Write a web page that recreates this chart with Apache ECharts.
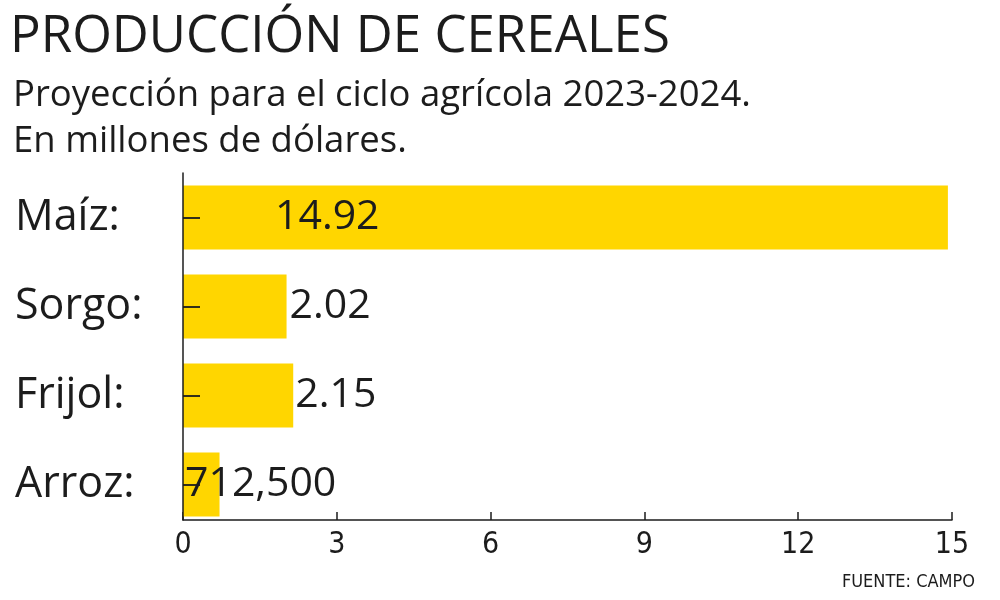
<!DOCTYPE html>
<html><head><meta charset="utf-8">
<script src="https://cdn.jsdelivr.net/npm/echarts@6/dist/echarts.min.js"></script>
<style>html,body{margin:0;padding:0;background:#fff}#c{width:1000px;height:600px}</style>
</head><body><div id="c"></div>
<script>
const categories = ['Maíz:', 'Sorgo:', 'Frijol:', 'Arroz:'];
const values = [14.92, 2.02, 2.15, 0.7125];
const valueLabels = ['14.92', '2.02', '2.15', '712,500'];
const xTicks = [0, 3, 6, 9, 12, 15];

const FONT = '"Open Sans", "Noto Sans", sans-serif';
const COND = '"DejaVu Sans Condensed", "Open Sans", sans-serif';
const YELLOW = '#FFD600';
const INK = '#1c1c1c';

const labelPos = [
  { position: [92, '50%'], verticalAlign: 'middle' },
  { position: 'right', distance: 3 },
  { position: 'right', distance: 2 },
  { position: [2, '50%'], verticalAlign: 'middle' }
];

const chart = echarts.init(document.getElementById('c'));
chart.setOption({
  animation: false,
  backgroundColor: '#fff',
  title: [
    { text: 'PRODUCCIÓN DE CEREALES', left: 5, top: 7,
      textStyle: { fontFamily: FONT, fontSize: 51, fontWeight: 'normal', color: INK } },
    { text: 'Proyección para el ciclo agrícola 2023-2024.\nEn millones de dólares.', left: 8, top: 68,
      textStyle: { fontFamily: FONT, fontSize: 36.5, fontWeight: 'normal', color: INK, lineHeight: 46 } },
    { text: 'FUENTE: CAMPO', right: 20, top: 568,
      textStyle: { fontFamily: COND, fontSize: 18, fontWeight: 500, color: INK } }
  ],
  grid: [
    { left: 183, right: 48, top: 173, bottom: 71, containLabel: false },
    { left: 183, right: 48, top: 173, bottom: 80, containLabel: false }
  ],
  xAxis: [{
    gridIndex: 0,
    type: 'value', min: 0, max: 15, interval: 3, offset: -9,
    axisLine: { show: true, lineStyle: { color: INK, width: 1.5 } },
    axisTick: { show: true, inside: true, length: 8, lineStyle: { color: INK, width: 1.5 } },
    splitLine: { show: false },
    axisLabel: { fontFamily: COND, fontSize: 30, color: INK, margin: 10,
      formatter: v => xTicks.includes(v) ? String(v) : '' }
  }, {
    gridIndex: 1, type: 'value', show: false
  }],
  yAxis: [{
    gridIndex: 0,
    type: 'category', data: categories, inverse: true, z: 10,
    axisLine: { show: false },
    axisTick: { show: true, inside: true, length: 17, alignWithLabel: true, lineStyle: { color: INK, width: 1.8 } },
    axisLabel: { fontFamily: FONT, fontSize: 43, color: INK, align: 'left', margin: 168 }
  }, {
    gridIndex: 1, type: 'value', z: 10,
    axisLine: { show: true, lineStyle: { color: INK, width: 1.5 } },
    axisTick: { show: false }, axisLabel: { show: false }, splitLine: { show: false }
  }],
  series: [{
    type: 'bar',
    xAxisIndex: 0, yAxisIndex: 0,
    barCategoryGap: '28%',
    itemStyle: { color: YELLOW },
    data: values.map((v, i) => ({
      value: v,
      label: Object.assign({
        show: true, formatter: valueLabels[i],
        fontFamily: FONT, fontSize: 41, color: INK
      }, labelPos[i])
    })),
    z: 1
  }]
});
</script>
</body></html>
